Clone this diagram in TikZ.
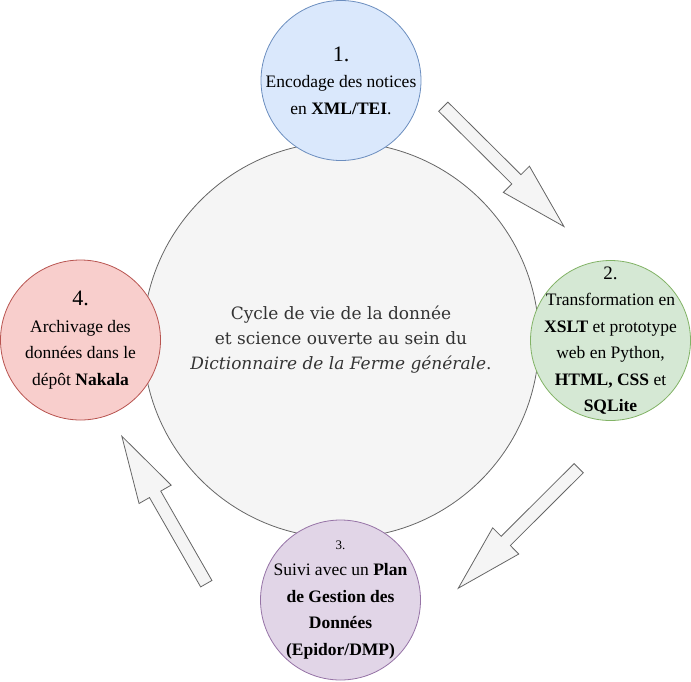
\documentclass[tikz,border=0pt]{standalone}
\usepackage{fontspec}
\setmainfont{Liberation Serif}
\newfontfamily\cycleserif{DejaVu Serif}
\usepackage{xcolor}
\definecolor{encfill}{HTML}{DAE8FC}
\definecolor{encdraw}{HTML}{6C8EBF}
\definecolor{trfill}{HTML}{D5E8D4}
\definecolor{trdraw}{HTML}{82B366}
\definecolor{dmpfill}{HTML}{E1D5E7}
\definecolor{dmpdraw}{HTML}{9673A6}
\definecolor{arcfill}{HTML}{F8CECC}
\definecolor{arcdraw}{HTML}{B85450}
\definecolor{hubfill}{HTML}{F5F5F5}
\definecolor{hubdraw}{HTML}{666666}
\definecolor{hubtext}{HTML}{333333}
\newcommand{\blockarrow}[2]{%
\draw[flow,shift={(#1)},rotate=#2] (0,-6.5) -- (103,-6.5) -- (103,-18.5) -- (170,0) -- (103,18.5) -- (103,6.5) -- (0,6.5) -- cycle;}

\begin{document}
\begin{tikzpicture}[x=1pt,y=-1pt,line join=miter,
  stage/.style={circle,draw=#1draw,fill=#1fill,line width=0.8pt,minimum size=160pt,inner sep=0pt},
  stagetext/.style={align=center,inner sep=0pt,font=\fontsize{17.5}{26.5}\selectfont},
  flow/.style={draw=hubdraw,fill=hubfill,line width=0.8pt}]
\useasboundingbox (0,0) rectangle (691,681);
\node[circle,draw=hubdraw,fill=hubfill,line width=0.8pt,minimum size=396pt,inner sep=0pt] (hub) at (341,340) {};
\node[stage=enc] (encode) at (341,80.5) {};
\node[stage=tr] (transform) at (610.5,340.5) {};
\node[stage=dmp] (plan) at (340.5,600) {};
\node[stage=arc] (archive) at (80.5,340) {};
\node[align=center,text=hubtext,font=\cycleserif\fontsize{17}{25}\selectfont] (title) at (hub) {Cycle de vie de la donnée\\et science ouverte au sein du\\\textit{Dictionnaire de la Ferme générale}.};
\node[stagetext] (encodetext) at (encode) {{\fontsize{22}{26.5}\selectfont 1.}\\Encodage des notices\\en \textbf{XML/TEI}.};
\node[stagetext] (transformtext) at (transform) {{\fontsize{19}{26.5}\selectfont 2.}\\Transformation en\\\textbf{XSLT} et prototype\\web en Python,\\\textbf{HTML, CSS} et\\\textbf{SQLite}};
\node[stagetext] (plantext) at (plan) {{\fontsize{13}{26.5}\selectfont 3.}\\Suivi avec un \textbf{Plan}\\\textbf{de Gestion des}\\\textbf{Données}\\\textbf{(Epidor/DMP)}};
\node[stagetext] (archivetext) at (archive) {{\fontsize{22}{26.5}\selectfont 4.}\\Archivage des\\données dans le\\dépôt \textbf{Nakala}};
\coordinate (flowA) at (443.3,106.7);
\coordinate (flowB) at (578.7,468.2);
\coordinate (flowC) at (206.3,583.7);
\blockarrow{flowA}{-44.8}
\blockarrow{flowB}{-135.1}
\blockarrow{flowC}{119.8}
\end{tikzpicture}
\end{document}
